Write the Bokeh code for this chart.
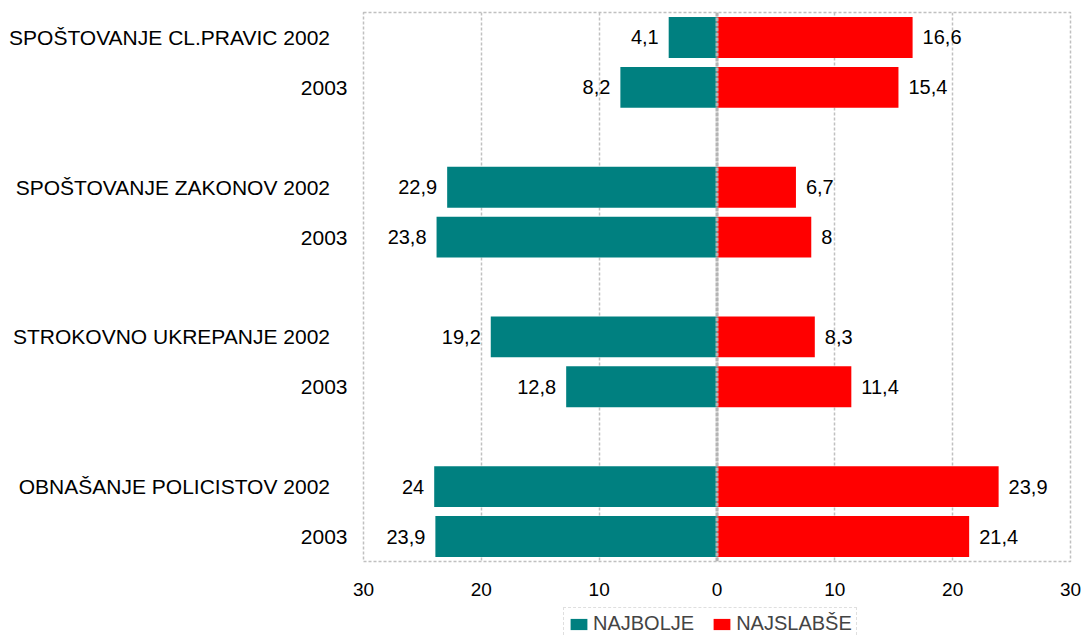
from bokeh.plotting import figure
from bokeh.models import (ColumnDataSource, Range1d, FixedTicker, LabelSet,
                          Span, Legend, LegendItem)
from bokeh.layouts import column
from bokeh.core.properties import value
from bokeh.embed import file_html
from bokeh.resources import INLINE

# ---- data ----
categories = ["SPOŠTOVANJE CL.PRAVIC", "SPOŠTOVANJE ZAKONOV",
              "STROKOVNO UKREPANJE", "OBNAŠANJE POLICISTOV"]
years = ["2002", "2003"]
najbolje = [4.1, 8.2, 22.9, 23.8, 19.2, 12.8, 24, 23.9]
najslabse = [16.6, 15.4, 6.7, 8, 8.3, 11.4, 23.9, 21.4]
x_ticks = [-30, -20, -10, 0, 10, 20, 30]
series_names = ["NAJBOLJE", "NAJSLABŠE"]

TEAL = "#008080"
RED = "#FF0000"
FONT = "Liberation Sans"
GRID = "#c0c0c0"

# row slots: one empty slot between category groups
slots, row_text = [], []
for gi, c in enumerate(categories):
    for yi, y in enumerate(years):
        slots.append(gi * (len(years) + 1) + yi + 0.5)
        row_text.append(f"{c} {y}\u00a0\u00a0\u00a0" if yi == 0 else y)
n_slots = len(categories) * (len(years) + 1) - 1

def fmt(v):
    return ("%g" % v).replace(".", ",")

xmin, xmax = x_ticks[0], x_ticks[-1]
src = ColumnDataSource(dict(
    y=slots,
    neg=[-v for v in najbolje],
    pos=najslabse,
    lbl_b=[fmt(v) for v in najbolje],
    lbl_s=[fmt(v) for v in najslabse],
))

p = figure(width=1082, height=600, output_backend="svg", toolbar_location=None,
           x_range=Range1d(xmin, xmax), y_range=Range1d(n_slots, 0),
           min_border_left=363, min_border_right=12, min_border_top=12, min_border_bottom=39)

p.hbar(y="y", left="neg", right=0, height=0.82, source=src,
       fill_color=TEAL, line_color=None)
p.hbar(y="y", left=0, right="pos", height=0.82, source=src,
       fill_color=RED, line_color=None)

p.ygrid.visible = False
p.xgrid.grid_line_color = GRID
p.xgrid.grid_line_dash = "3 2"
p.xgrid.grid_line_width = 1.5
p.outline_line_color = GRID
p.outline_line_dash = "3 2"
p.outline_line_width = 1.5

ya = p.yaxis[0]
ya.ticker = FixedTicker(ticks=slots)
ya.major_label_overrides = {s: t for s, t in zip(slots, row_text)}
ya.axis_line_color = None
ya.major_tick_line_color = None
ya.minor_tick_line_color = None
ya.major_label_standoff = 10
ya.major_label_text_font = FONT
ya.major_label_text_font_size = "21px"
ya.major_label_text_color = "#000000"

ax = p.xaxis[0]
ax.ticker = FixedTicker(ticks=x_ticks)
ax.major_label_overrides = {t: str(abs(t)) for t in x_ticks}
ax.axis_line_color = None
ax.major_tick_line_color = None
ax.minor_tick_line_color = None
ax.major_label_standoff = 15
ax.major_label_text_font = FONT
ax.major_label_text_font_size = "19px"
ax.major_label_text_color = "#000000"

p.add_layout(Span(location=0, dimension="height", line_color="#b4b4b4",
                  line_width=3, line_dash="4 1"))

p.add_layout(LabelSet(x="neg", y="y", text="lbl_b", source=src, x_offset=-10,
                      text_align="right", text_baseline="middle",
                      text_font=value(FONT), text_font_size="20px", text_color="#000000"))
p.add_layout(LabelSet(x="pos", y="y", text="lbl_s", source=src, x_offset=10,
                      text_align="left", text_baseline="middle",
                      text_font=value(FONT), text_font_size="20px", text_color="#000000"))

# ---- legend strip below the chart (frame aligned with the chart's frame) ----
lg = figure(width=1082, height=35, output_backend="svg", toolbar_location=None,
            x_range=Range1d(1000, 1001), y_range=Range1d(1000, 1001),
            x_axis_location=None, y_axis_location=None, min_border=0)
lg.outline_line_color = None
lg.grid.visible = False
# legend-only renderers (their bars fall far outside this strip's ranges)
d1 = lg.hbar(y="y", left="neg", right=0, height=0.82, source=src,
             fill_color=TEAL, line_color=None)
d2 = lg.hbar(y="y", left=0, right="pos", height=0.82, source=src,
             fill_color=RED, line_color=None)
legend = Legend(items=[LegendItem(label=series_names[0], renderers=[d1], index=0),
                       LegendItem(label=series_names[1], renderers=[d2], index=0)],
                orientation="horizontal", location=(200, -5),
                glyph_width=21, glyph_height=14, label_standoff=4, spacing=17,
                padding=4, margin=0,
                label_text_font=FONT, label_text_font_size="20px",
                border_line_color=GRID, border_line_dash="3 2", border_line_width=1.5,
                background_fill_alpha=1.0)
lg.add_layout(legend, "center")

open("out.html", "w").write(file_html(column(p, lg, spacing=0), INLINE))
